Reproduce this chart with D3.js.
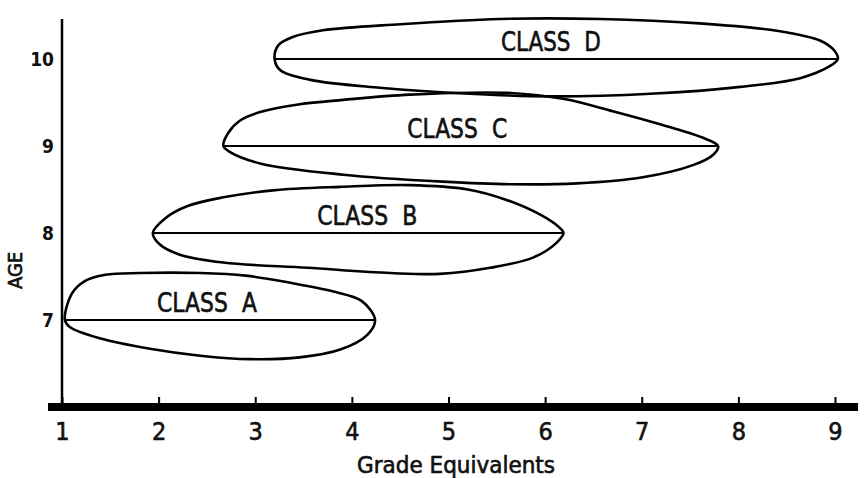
<!DOCTYPE html>
<html>
<head>
<meta charset="utf-8">
<script src="https://cdn.jsdelivr.net/npm/d3@7"></script>
<style>
  html, body { margin: 0; padding: 0; background: #fff; }
  svg { display: block; }
  text { font-family: "DejaVu Sans Condensed", "Liberation Sans Narrow", sans-serif; fill: #111; }
</style>
</head>
<body>
<svg id="chart" width="864" height="478"></svg>
<script>
const width = 864;
const height = 478;

// categories
const classNames = ["CLASS A", "CLASS B", "CLASS C", "CLASS D"];
const classAges = [7, 8, 9, 10];
const classStart = [1.03, 1.94, 2.67, 3.2];
const classEnd = [4.24, 6.19, 7.79, 9.03];
const labelGrades = [2.5, 4.16, 5.09, 6.06];

// tick labels
const gradeTicks = [1, 2, 3, 4, 5, 6, 7, 8, 9];
const ageTicks = [7, 8, 9, 10];

// outline of each class, [grade, age], top edge left->right
const upperEdges = [
  [[1.1, 7.3], [1.24, 7.45], [1.45, 7.52], [1.81, 7.54], [2.43, 7.54], [2.9, 7.51],
   [3.35, 7.43], [3.8, 7.33], [4.1, 7.22]],
  [[2.07, 8.17], [2.3, 8.31], [2.67, 8.41], [3.18, 8.49], [3.88, 8.53], [4.6, 8.55],
   [5.2, 8.5], [5.6, 8.38], [5.95, 8.21], [6.14, 8.07]],
  [[2.72, 9.15], [2.84, 9.29], [3.05, 9.39], [3.46, 9.48], [3.91, 9.53], [4.6, 9.59],
   [5.64, 9.61], [6.2, 9.54], [6.7, 9.4], [7.19, 9.25], [7.62, 9.1]],
  [[3.24, 10.16], [3.38, 10.25], [3.7, 10.33], [4.5, 10.4], [5.53, 10.46], [6.57, 10.46],
   [7.6, 10.41], [8.43, 10.32], [8.85, 10.21], [8.99, 10.1]]
];
// bottom edge right->left
const lowerEdges = [
  [[4.16, 6.83], [3.88, 6.66], [3.46, 6.57], [2.95, 6.55], [2.43, 6.59], [1.91, 6.67],
   [1.39, 6.79], [1.08, 6.92]],
  [[6.12, 7.89], [5.88, 7.72], [5.43, 7.6], [4.91, 7.53], [4.4, 7.54], [3.54, 7.6],
   [2.67, 7.66], [2.22, 7.75], [2.01, 7.87]],
  [[7.74, 8.9], [7.53, 8.78], [7.01, 8.64], [6.33, 8.57], [5.64, 8.56], [4.94, 8.59],
   [3.91, 8.67], [3.05, 8.8], [2.74, 8.93]],
  [[8.95, 9.92], [8.64, 9.78], [8.02, 9.68], [7.09, 9.6], [6.05, 9.57], [5.22, 9.6],
   [4.29, 9.67], [3.57, 9.76], [3.26, 9.87]]
];

const x = d3.scaleLinear().domain([1, 9]).range([62, 835]);
const y = d3.scaleLinear().domain([7, 10]).range([320, 59]);

const svg = d3.select("#chart");
svg.append("rect").attr("width", width).attr("height", height).attr("fill", "#fff");

const plot = svg.append("g");

// y axis line
plot.append("line")
  .attr("x1", x(1)).attr("x2", x(1))
  .attr("y1", y(10.46)).attr("y2", y(6))
  .attr("stroke", "#000").attr("stroke-width", 2.5);

// x axis: thick base bar with short ticks above it
const xAxis = d3.axisBottom(x).tickValues(gradeTicks).tickFormat(d3.format("d"))
  .tickSize(0).tickPadding(0);
const xg = plot.append("g").attr("transform", `translate(0,${y(6)})`).call(xAxis);
xg.select(".domain").remove();
xg.insert("line", ":first-child")
  .attr("x1", 48).attr("x2", 858)
  .attr("stroke", "#000").attr("stroke-width", 8);
xg.selectAll(".tick line")
  .attr("y1", -4).attr("y2", -10)
  .attr("stroke", "#000").attr("stroke-width", 2);
xg.selectAll(".tick text")
  .attr("y", 33)
  .attr("dy", 0)
  .style("font-size", "25px")
  .style("fill", "#111")
  .style("stroke", "#111")
  .style("stroke-width", 0.6);

// y axis labels
const yAxis = d3.axisLeft(y).tickValues(ageTicks).tickFormat(d3.format("d"))
  .tickSize(0).tickPadding(8);
const yg = plot.append("g").attr("transform", `translate(${x(1)},0)`).call(yAxis);
yg.select(".domain").remove();
yg.selectAll(".tick text")
  .style("font-size", "19px")
  .style("font-weight", "bold")
  .style("fill", "#111");

// axis titles
svg.append("text")
  .attr("x", 357).attr("y", 473)
  .attr("textLength", 198)
  .attr("lengthAdjust", "spacingAndGlyphs")
  .style("font-size", "23px")
  .style("stroke", "#111")
  .style("stroke-width", 0.6)
  .text("Grade Equivalents");

svg.append("text")
  .attr("transform", `translate(22,${y(7.57)}) rotate(-90)`)
  .attr("text-anchor", "middle")
  .style("font-size", "20px")
  .style("stroke", "#111")
  .style("stroke-width", 0.7)
  .text("AGE");

// class outlines
const outline = d3.line()
  .x(d => x(d[0]))
  .y(d => y(d[1]))
  .curve(d3.curveCatmullRomClosed.alpha(0.5));

const classes = classNames.map((name, i) => ({
  name,
  age: classAges[i],
  start: classStart[i],
  end: classEnd[i],
  labelGrade: labelGrades[i],
  points: [[classStart[i], classAges[i]], ...upperEdges[i],
           [classEnd[i], classAges[i]], ...lowerEdges[i]]
}));

const groups = plot.append("g").selectAll("g")
  .data(classes)
  .join("g");

groups.append("path")
  .attr("d", d => outline(d.points))
  .attr("fill", "none")
  .attr("stroke", "#000")
  .attr("stroke-width", 2.6)
  .attr("stroke-linejoin", "round");

groups.append("line")
  .attr("x1", d => x(d.start)).attr("x2", d => x(d.end))
  .attr("y1", d => y(d.age)).attr("y2", d => y(d.age))
  .attr("stroke", "#000").attr("stroke-width", 2);

groups.append("text")
  .attr("x", d => x(d.labelGrade) - 50)
  .attr("y", d => y(d.age) - 8)
  .attr("textLength", 100)
  .attr("lengthAdjust", "spacingAndGlyphs")
  .style("font-size", "27px")
  .style("word-spacing", "8px")
  .style("stroke", "#111")
  .style("stroke-width", 0.6)
  .text(d => d.name);
</script>
</body>
</html>
